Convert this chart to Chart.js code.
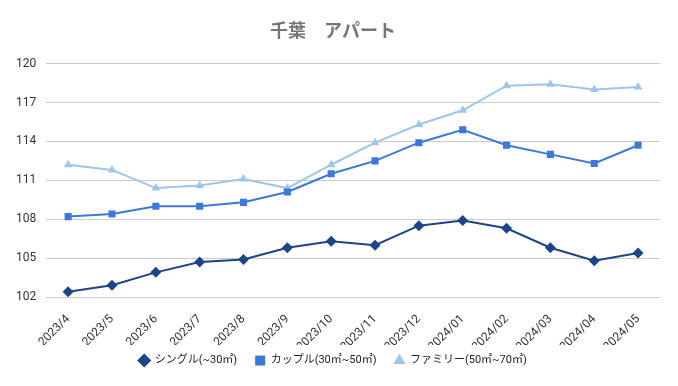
<!DOCTYPE html>
<html>
<head>
<meta charset="utf-8">
<script src="https://cdn.jsdelivr.net/npm/chart.js@4"></script>
<style>
  html, body { margin: 0; padding: 0; background: #fff; }
  #wrap { width: 678px; height: 386px; }
</style>
</head>
<body>
<div id="wrap"><canvas id="chart" width="678" height="386"></canvas></div>
<script>
// Data
const months = [
  "2023/4", "2023/5", "2023/6", "2023/7", "2023/8", "2023/9", "2023/10",
  "2023/11", "2023/12", "2024/01", "2024/02", "2024/03", "2024/04", "2024/05",
];
const single = [102.4, 102.9, 103.9, 104.7, 104.9, 105.8, 106.3, 106.0, 107.5, 107.9, 107.3, 105.8, 104.8, 105.4];
const couple = [108.2, 108.4, 109.0, 109.0, 109.3, 110.1, 111.5, 112.5, 113.9, 114.9, 113.7, 113.0, 112.3, 113.7];
const family = [112.2, 111.8, 110.4, 110.6, 111.1, 110.4, 112.2, 113.9, 115.3, 116.4, 118.3, 118.4, 118.0, 118.2];
const yTicks = [102, 105, 108, 111, 114, 117, 120];

const fontFamily = "Roboto, 'Noto Sans CJK JP', sans-serif";

function series(label, data, color, style, radius) {
  return {
    label: label,
    data: data,
    borderColor: color,
    backgroundColor: color,
    borderWidth: 2,
    pointStyle: style,
    pointRadius: radius,
    pointHoverRadius: radius,
    pointBorderWidth: 0,
    tension: 0,
  };
}

// pull the legend up a bit so it sits closer to the rotated month labels
const legendNudge = {
  id: "legendNudge",
  afterLayout(chart) {
    const legend = chart.legend;
    if (!legend) return;
    legend.top -= 8;
    legend.bottom -= 8;
  },
};

new Chart(document.getElementById("chart"), {
  type: "line",
  data: {
    labels: months,
    datasets: [
      series("シングル(~30㎡)", single, "#1c4587", "rectRot", 5.5),
      series("カップル(30㎡~50㎡)", couple, "#3c78d8", "rect", 5),
      series("ファミリー(50㎡~70㎡)", family, "#9fc5e8", "triangle", 5),
    ],
  },
  plugins: [legendNudge],
  options: {
    responsive: false,
    animation: false,
    layout: { padding: { left: 6, right: 18, top: 10, bottom: 5 } },
    plugins: {
      title: {
        display: true,
        text: "千葉　アパート",
        color: "#757575",
        font: { family: fontFamily, size: 18, weight: "bold" },
        padding: { top: 12, bottom: 20 },
      },
      legend: {
        position: "bottom",
        maxHeight: 36,
        labels: {
          usePointStyle: true,
          boxWidth: 10,
          boxHeight: 10,
          padding: 18,
          color: "#222",
          font: { family: fontFamily, size: 11 },
        },
      },
      tooltip: { enabled: false },
    },
    scales: {
      x: {
        offset: true,
        grid: { display: false },
        border: { display: false },
        afterFit: (axis) => {
          axis.height = 48;
        },
        ticks: {
          color: "#333",
          padding: 7,
          font: { family: fontFamily, size: 12 },
          maxRotation: 45,
          minRotation: 45,
          autoSkip: false,
        },
      },
      y: {
        min: yTicks[0],
        max: yTicks[yTicks.length - 1],
        afterBuildTicks: (axis) => {
          axis.ticks = yTicks.map((v) => ({ value: v }));
        },
        grid: { color: "#cccccc", drawTicks: false },
        border: { display: false },
        ticks: {
          color: "#333",
          padding: 10,
          font: { family: fontFamily, size: 12 },
        },
      },
    },
  },
});
</script>
</body>
</html>
